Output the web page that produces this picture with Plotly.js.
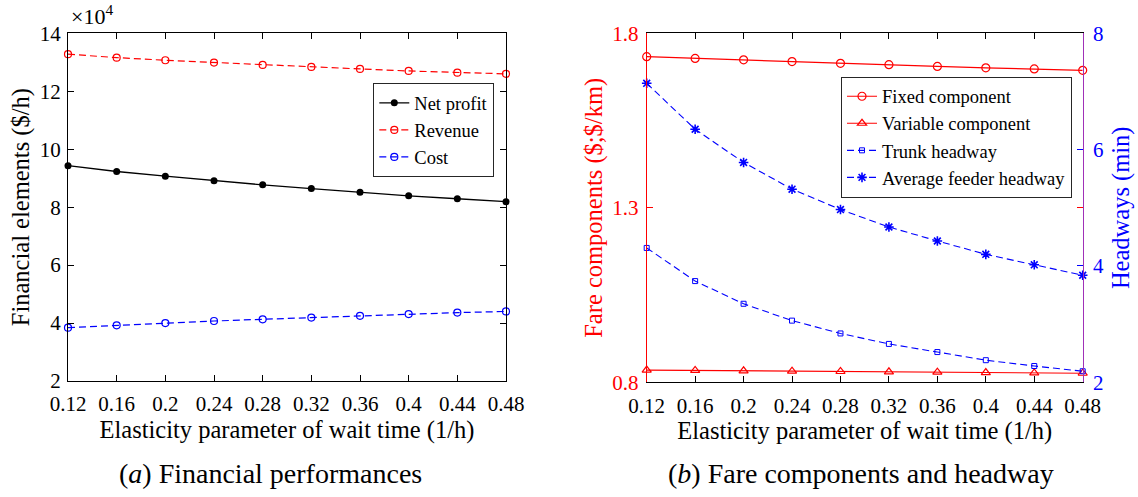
<!DOCTYPE html>
<html>
<head>
<meta charset="utf-8">
<script src="https://cdn.plot.ly/plotly-3.0.1.min.js"></script>
<style>html,body{margin:0;padding:0;background:#fff;}#chart{width:1138px;height:497px;}</style>
</head>
<body>
<div id="chart"></div>
<script>
// ---- data ----
const elasticity = [0.12, 0.16, 0.20, 0.24, 0.28, 0.32, 0.36, 0.40, 0.44, 0.48];
const xTickText = ['0.12', '0.16', '0.2', '0.24', '0.28', '0.32', '0.36', '0.4', '0.44', '0.48'];
// (a) financial elements, $/h
const netProfit = [94300, 92300, 90700, 89100, 87700, 86400, 85100, 83900, 82900, 81900];
const revenue   = [132800, 131600, 130700, 129900, 129100, 128400, 127700, 127000, 126400, 126000];
const cost      = [38400, 39200, 40000, 40700, 41300, 41900, 42500, 43100, 43600, 44000];
const finTickVals = [20000, 40000, 60000, 80000, 100000, 120000, 140000];
const finTickText = ['2', '4', '6', '8', '10', '12', '14'];
// (b) fare components ($; $/km) and headways (min)
const fixedComp    = [1.733, 1.728, 1.724, 1.719, 1.714, 1.710, 1.705, 1.701, 1.698, 1.694];
const variableComp = [0.835, 0.834, 0.833, 0.832, 0.831, 0.830, 0.829, 0.828, 0.827, 0.826];
const trunkHeadway  = [4.31, 3.74, 3.35, 3.06, 2.84, 2.66, 2.52, 2.38, 2.28, 2.19];
const feederHeadway = [7.14, 6.35, 5.78, 5.32, 4.97, 4.67, 4.43, 4.20, 4.02, 3.84];
const fareTicks = [0.8, 1.3, 1.8];
const headwayTicks = [2, 4, 6, 8];

// ---- layout helpers ----
const W = 1138, H = 497;
const FONT = 'Liberation Serif';
const px = v => v / W, py = v => 1 - v / H;
const RED = '#ff0000', BLUE = '#0000ff';
const DASH = '7px,4px';

const traces = [
  {x: elasticity, y: netProfit, name: 'Net profit', type: 'scatter', mode: 'lines+markers',
   xaxis: 'x', yaxis: 'y', legend: 'legend', cliponaxis: false,
   line: {color: '#000', width: 1.3}, marker: {symbol: 'circle', size: 7, color: '#000'}},
  {x: elasticity, y: revenue, name: 'Revenue', type: 'scatter', mode: 'lines+markers',
   xaxis: 'x', yaxis: 'y', legend: 'legend', cliponaxis: false,
   line: {color: RED, width: 1.2, dash: DASH}, marker: {symbol: 'circle-open', size: 7, color: RED, line: {width: 1.2}}},
  {x: elasticity, y: cost, name: 'Cost', type: 'scatter', mode: 'lines+markers',
   xaxis: 'x', yaxis: 'y', legend: 'legend', cliponaxis: false,
   line: {color: BLUE, width: 1.2, dash: DASH}, marker: {symbol: 'circle-open', size: 7, color: BLUE, line: {width: 1.2}}},

  {x: elasticity, y: fixedComp, name: 'Fixed component', type: 'scatter', mode: 'lines+markers',
   xaxis: 'x2', yaxis: 'y2', legend: 'legend2', cliponaxis: false,
   line: {color: RED, width: 1.2}, marker: {symbol: 'circle-open', size: 8, color: RED, line: {width: 1.2}}},
  {x: elasticity, y: variableComp, name: 'Variable component', type: 'scatter', mode: 'lines+markers',
   xaxis: 'x2', yaxis: 'y2', legend: 'legend2', cliponaxis: false,
   line: {color: RED, width: 1.2}, marker: {symbol: 'triangle-up-open', size: 8, color: RED, line: {width: 1.2}}},
  {x: elasticity, y: trunkHeadway, name: 'Trunk headway', type: 'scatter', mode: 'lines+markers',
   xaxis: 'x2', yaxis: 'y3', legend: 'legend2', cliponaxis: false,
   line: {color: BLUE, width: 1.1, dash: DASH}, marker: {symbol: 'square-open', size: 5, color: BLUE, line: {width: 1}}},
  {x: elasticity, y: feederHeadway, name: 'Average feeder headway', type: 'scatter', mode: 'lines+markers',
   xaxis: 'x2', yaxis: 'y3', legend: 'legend2', cliponaxis: false,
   line: {color: BLUE, width: 1.1, dash: DASH}, marker: {symbol: 'asterisk-open', size: 8, color: BLUE, line: {width: 1.6, color: BLUE}}}
];

const tickFont = {family: FONT, size: 21, color: '#000'};
const titleFont = {family: FONT, size: 24.5, color: '#000'};
const xCommon = {
  range: [0.12, 0.48], tickvals: elasticity, ticktext: xTickText, ticks: 'inside', ticklen: 6,
  tickcolor: '#000', showline: true, linecolor: '#000', linewidth: 1, mirror: 'ticks',
  showgrid: false, zeroline: false, tickfont: tickFont, ticklabelstandoff: 4,
  title: {text: 'Elasticity parameter of wait time (1/h)', font: titleFont, standoff: 4}
};
const legendFont = {family: FONT, size: 18.5, color: '#000'};

const layout = {
  width: W, height: H, autosize: false,
  margin: {l: 0, r: 0, t: 0, b: 0, pad: 0},
  paper_bgcolor: '#fff', plot_bgcolor: '#fff',
  font: {family: FONT, color: '#000'},
  xaxis: Object.assign({}, xCommon, {domain: [px(68), px(506)], anchor: 'y'}),
  yaxis: {domain: [py(381), py(33.3)], anchor: 'x', range: [20000, 140000],
    tickvals: finTickVals, ticktext: finTickText, ticks: 'inside', ticklen: 6, tickcolor: '#000',
    showline: true, linecolor: '#000', linewidth: 1, mirror: 'ticks', showgrid: false, zeroline: false,
    tickfont: tickFont, ticklabelstandoff: 2, title: {text: 'Financial elements ($/h)', font: titleFont, standoff: 3}},
  xaxis2: Object.assign({}, xCommon, {domain: [px(646.7), px(1082.7)], anchor: 'y2'}),
  yaxis2: {domain: [py(382.3), py(33.3)], anchor: 'x2', range: [0.8, 1.8],
    tickvals: fareTicks, ticktext: ['0.8', '1.3', '1.8'], ticks: 'inside', ticklen: 6, tickcolor: RED,
    showline: true, linecolor: RED, linewidth: 1, mirror: 'ticks', showgrid: false, zeroline: false,
    tickfont: {family: FONT, size: 21, color: RED}, ticklabelstandoff: 3,
    title: {text: 'Fare components ($;$/km)', font: {family: FONT, size: 24.5, color: RED}, standoff: 2}},
  yaxis3: {overlaying: 'y2', anchor: 'x2', side: 'right', range: [2, 8],
    tickvals: headwayTicks, ticks: 'inside', ticklen: 6, tickcolor: BLUE,
    showline: true, linecolor: '#a030b8', linewidth: 1.2, showgrid: false, zeroline: false,
    tickfont: {family: FONT, size: 21, color: BLUE}, ticklabelstandoff: 5,
    title: {text: 'Headways (min)', font: {family: FONT, size: 24.5, color: BLUE}, standoff: 8}},
  showlegend: true,
  legend: {x: px(494.3), xanchor: 'right', y: py(83.3), yanchor: 'top', bgcolor: '#fff',
    bordercolor: '#262626', borderwidth: 1, font: legendFont, itemwidth: 30, tracegroupgap: 0},
  legend2: {x: px(1072), xanchor: 'right', y: py(76.7), yanchor: 'top', bgcolor: '#fff',
    bordercolor: '#262626', borderwidth: 1, font: legendFont, itemwidth: 30, tracegroupgap: 0},
  annotations: [
    {xref: 'paper', yref: 'paper', x: px(69), y: py(31), xanchor: 'left', yanchor: 'bottom',
     text: '×10<sup>4</sup>', showarrow: false, font: {family: FONT, size: 22, color: '#000'}},
    {xref: 'paper', yref: 'paper', x: px(270), y: py(473), xanchor: 'center', yanchor: 'middle',
     text: '(<i>a</i>) Financial performances', showarrow: false, font: {family: FONT, size: 28, color: '#000'}},
    {xref: 'paper', yref: 'paper', x: px(861), y: py(473), xanchor: 'center', yanchor: 'middle',
     text: '(<i>b</i>) Fare components and headway', showarrow: false, font: {family: FONT, size: 28, color: '#000'}}
  ]
};

Plotly.newPlot('chart', traces, layout, {displayModeBar: false, staticPlot: true});
</script>
</body>
</html>
